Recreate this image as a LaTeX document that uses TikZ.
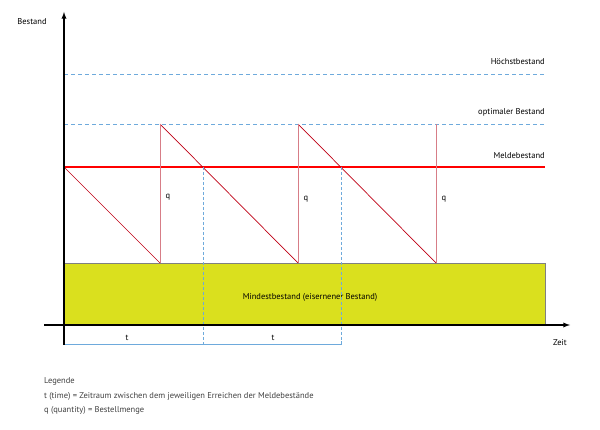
\documentclass[tikz,border=0pt]{standalone}
\usepackage{fontspec}
\setmainfont{PT Sans}
\begin{document}
\begin{tikzpicture}[x=1pt,y=-1pt,font=\fontsize{8.5}{10}\selectfont,
  lbl/.style={inner sep=0pt},
  dashblue/.style={draw={rgb,255:red,110;green,170;blue,220},dash pattern=on 4pt off 3pt,line width=0.9pt},
  saw/.style={draw={rgb,255:red,190;green,0;blue,20},line width=0.7pt},
  riser/.style={draw={rgb,255:red,215;green,125;blue,135},line width=1pt},
  axis/.style={draw=black,line width=1.3pt,-latex}]
\useasboundingbox (0,0) rectangle (600,430);
\node[draw=gray,fill={rgb,255:red,218;green,224;blue,30},minimum width=481pt,minimum height=62pt,inner sep=0pt,anchor=north west] (rect) at (64,263) {};
\node[lbl] (mind) at (310,297) {Mindestbestand (eisernener Bestand)};
\coordinate (hs) at (64,74); \coordinate (he) at (545,74);
\coordinate (os) at (64,124); \coordinate (oe) at (545,124);
\coordinate (ms) at (64,167); \coordinate (me) at (545,167);
\draw[dashblue] (hs) -- (he);
\draw[dashblue] (os) -- (oe);
\draw[red,line width=1.5pt] (ms) -- (me);
\node[lbl,anchor=base east] (hl) at (545,65) {Höchstbestand};
\node[lbl,anchor=base east] (ol) at (545,115) {optimaler Bestand};
\node[lbl,anchor=base east] (ml) at (545,159) {Meldebestand};
\coordinate (b1) at (160,263); \coordinate (t1) at (160,124);
\coordinate (b2) at (298,263); \coordinate (t2) at (298,124);
\coordinate (b3) at (436,263); \coordinate (t3) at (436,124);
\draw[saw] (ms) -- (b1); \draw[saw] (t1) -- (b2); \draw[saw] (t2) -- (b3);
\draw[riser] (b1) -- (t1); \draw[riser] (b2) -- (t2); \draw[riser] (b3) -- (t3);
\node[lbl] (q1) at (168,197) {q};
\node[lbl] (q2) at (306,199) {q};
\node[lbl] (q3) at (444,199) {q};
\coordinate (v1) at (203,167); \coordinate (v2) at (341,167);
\coordinate (k0) at (64,345); \coordinate (k1) at (203,345); \coordinate (k2) at (341,345);
\draw[dashblue,line width=0.7pt,dash pattern=on 3pt off 2pt] (v1) -- (k1);
\draw[dashblue,line width=0.7pt,dash pattern=on 3pt off 2pt] (v2) -- (k2);
\draw[draw={rgb,255:red,110;green,170;blue,220},line width=1pt] (64,341) -- (k0) -- (k2) -- (341,341);
\node[lbl] (tl1) at (127,338) {t};
\node[lbl] (tl2) at (273,338) {t};
\coordinate (xa) at (44,325); \coordinate (xb) at (570,325);
\coordinate (ya) at (64,345); \coordinate (yb) at (64,12);
\draw[axis] (xa) -- (xb);
\draw[axis] (ya) -- (yb);
\node[lbl] (zeit) at (560,343) {Zeit};
\node[lbl] (best) at (32,22) {Bestand};
\node[lbl,anchor=west,text=black!75] (leg1) at (44,381) {Legende};
\node[lbl,anchor=west,text=black!75] (leg2) at (44,396) {t (time) = Zeitraum zwischen dem jeweiligen Erreichen der Meldebestände};
\node[lbl,anchor=west,text=black!75] (leg3) at (44,410) {q (quantity) = Bestellmenge};
\end{tikzpicture}
\end{document}
